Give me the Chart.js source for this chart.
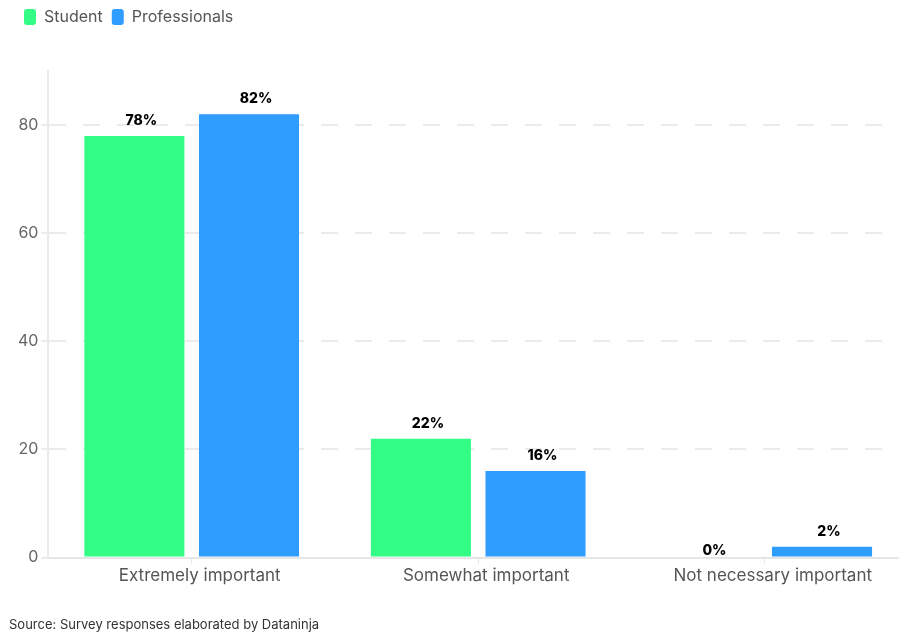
<!DOCTYPE html>
<html>
<head>
<meta charset="utf-8">
<script src="https://cdn.jsdelivr.net/npm/chart.js@4"></script>
<style>
  html, body { margin: 0; padding: 0; background: #fff; overflow: hidden; }
  #wrap { position: relative; width: 912px; height: 633px; }
</style>
</head>
<body>
<div id="wrap"><canvas id="surveyChart"></canvas></div>
<script>
// categories and values (percent)
const categories = ["Extremely important", "Somewhat important", "Not necessary important"];
const studentValues = [78, 22, 0];
const professionalValues = [82, 16, 2];
const yTicks = [0, 20, 40, 60, 80];
const sourceText = "Source: Survey responses elaborated by Dataninja";

const FONT = "Inter, 'Open Sans', sans-serif";

// extra space under the legend
const legendSpace = {
    id: "legendSpace",
    beforeInit(chart) {
        const fit = chart.legend.fit;
        chart.legend.fit = function () {
            fit.call(this);
            this.height += 36;
        };
    }
};

// percent labels above the bars
const barLabels = {
    id: "barLabels",
    afterDatasetsDraw(chart) {
        const ctx = chart.ctx;
        ctx.save();
        ctx.font = "800 14px " + FONT;
        ctx.fillStyle = "#000";
        ctx.textAlign = "center";
        ctx.textBaseline = "bottom";
        chart.data.datasets.forEach((ds, i) => {
            chart.getDatasetMeta(i).data.forEach((bar, j) => {
                const v = ds.data[j];
                const gap = v === 0 ? 0 : 8;
                ctx.fillText(v + "%", bar.x + 7, bar.y - gap);
            });
        });
        ctx.restore();
    }
};

// source line at the bottom
const sourceNote = {
    id: "sourceNote",
    afterDraw(chart) {
        const ctx = chart.ctx;
        ctx.save();
        ctx.font = "13px " + FONT;
        ctx.fillStyle = "#333";
        ctx.textBaseline = "middle";
        ctx.fillText(sourceText, 9, 625);
        ctx.restore();
    }
};

const ctx = document.getElementById("surveyChart").getContext("2d");
new Chart(ctx, {
    type: "bar",
    data: {
        labels: categories,
        datasets: [
            { label: "Student", data: studentValues, backgroundColor: "#34fd85" },
            { label: "Professionals", data: professionalValues, backgroundColor: "#2f9cff" }
        ]
    },
    options: {
        responsive: true,
        maintainAspectRatio: false,
        animation: false,
        categoryPercentage: 0.8,
        barPercentage: 0.873,
        layout: { padding: { left: 15, right: 4, top: 0, bottom: 45 } },
        plugins: {
            legend: {
                position: "top",
                align: "start",
                labels: {
                    boxWidth: 12,
                    boxHeight: 16,
                    useBorderRadius: true,
                    borderRadius: 3,
                    padding: 9,
                    color: "#555",
                    font: { family: FONT, size: 16 }
                }
            },
            tooltip: { enabled: false }
        },
        scales: {
            x: {
                grid: {
                    offset: false,
                    drawOnChartArea: false,
                    color: "#e6e6e6",
                    tickLength: 6
                },
                border: { color: "#e6e6e6", width: 2 },
                ticks: {
                    color: "#555",
                    labelOffset: 8,
                    padding: 2,
                    font: { family: FONT, size: 17 }
                }
            },
            y: {
                min: 0,
                max: 90,
                afterBuildTicks(scale) {
                    scale.ticks = yTicks.map(v => ({ value: v }));
                },
                grid: {
                    color: "#ebebeb",
                    lineWidth: 2,
                    tickLength: 7
                },
                border: { color: "#ebebeb", width: 2, dash: [17, 17] },
                ticks: {
                    color: "#666",
                    padding: 3,
                    font: { family: FONT, size: 16 }
                }
            }
        }
    },
    plugins: [legendSpace, barLabels, sourceNote]
});
</script>
</body>
</html>
